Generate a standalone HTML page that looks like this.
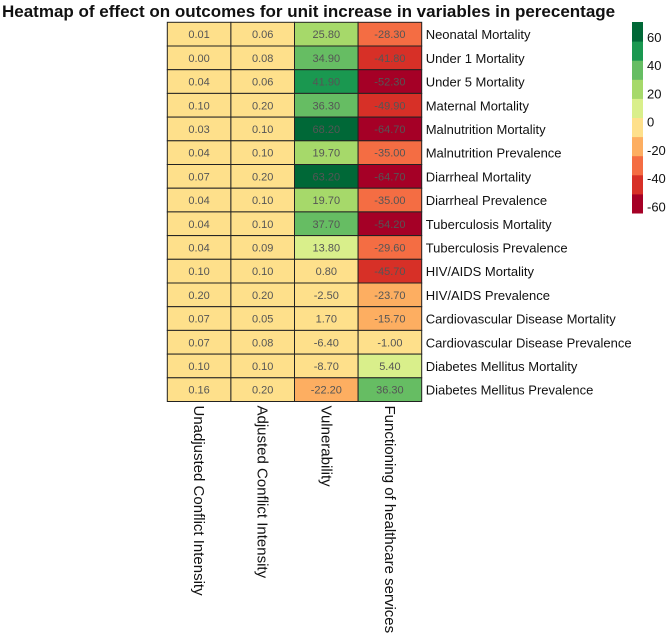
<!DOCTYPE html>
<html><head><meta charset="utf-8"><style>
body{margin:0;background:#fff;}
svg text{font-family:"Liberation Sans",sans-serif;}
</style></head><body>
<svg id="c" width="669" height="637" viewBox="0 0 669 637">
<text x="2" y="17" font-size="17" font-weight="bold" fill="#111">Heatmap of effect on outcomes for unit increase in variables in perecentage</text>
</svg>
<script>
const rowLabels=["Neonatal Mortality","Under 1 Mortality","Under 5 Mortality","Maternal Mortality","Malnutrition Mortality","Malnutrition Prevalence","Diarrheal Mortality","Diarrheal Prevalence","Tuberculosis Mortality","Tuberculosis Prevalence","HIV/AIDS Mortality","HIV/AIDS Prevalence","Cardiovascular Disease Mortality","Cardiovascular Disease Prevalence","Diabetes Mellitus Mortality","Diabetes Mellitus Prevalence"];
const colLabels=["Unadjusted Conflict Intensity","Adjusted Conflict Intensity","Vulnerability","Functioning of healthcare services"];
const unadjusted=[0.01,0.00,0.04,0.10,0.03,0.04,0.07,0.04,0.04,0.04,0.10,0.20,0.07,0.07,0.10,0.16];
const adjusted=[0.06,0.08,0.06,0.20,0.10,0.10,0.20,0.10,0.10,0.09,0.10,0.20,0.05,0.08,0.10,0.20];
const vulnerability=[25.8,34.9,41.9,36.3,68.2,19.7,63.2,19.7,37.7,13.8,0.8,-2.5,1.7,-6.4,-8.7,-22.2];
const healthcare=[-28.3,-41.8,-52.3,-49.9,-64.7,-35.0,-64.7,-35.0,-54.2,-29.6,-45.7,-23.7,-15.7,-1.0,5.4,36.3];
const legendTicks=[60,40,20,0,-20,-40,-60];
const palette=["#a50026","#d73027","#f46d43","#fdae61","#fee08b","#d9ef8b","#a6d96a","#66bd63","#1a9850","#006837"];
const series=[unadjusted,adjusted,vulnerability,healthcare];
const svg=document.getElementById('c');
const NS='http://www.w3.org/2000/svg';
function mk(t,a){const e=document.createElementNS(NS,t);for(const k in a)e.setAttribute(k,a[k]);svg.appendChild(e);return e;}
const all=series.flat();const vmin=Math.min(...all),vmax=Math.max(...all);
function color(v){let i=Math.floor((v-vmin)/(vmax-vmin)*10);i=Math.max(0,Math.min(9,i));return palette[i];}
const x0=167.3,y0=22.3,cw=63.6,rh=23.7;
const xPos=j=>x0+j*cw, yPos=i=>y0+i*rh;
series.forEach((s,j)=>{s.forEach((v,i)=>{
 const r=mk('rect',{x:xPos(j),y:yPos(i),width:cw,height:rh,fill:color(v),stroke:'#222','stroke-width':1});
 
 
 const t=mk('text',{x:xPos(j)+cw/2,y:yPos(i)+rh/2+4,'text-anchor':'middle','font-size':11,fill:'#555'});
 t.textContent=v.toFixed(2);
 
 
});});
rowLabels.forEach((l,i)=>{
 const t=mk('text',{x:xPos(4)+4,y:yPos(i)+rh/2+5,'font-size':13,fill:'#111'});
 t.textContent=l;
 
 
});
colLabels.forEach((l,j)=>{
 const cx=xPos(j)+cw/2-5,cy=yPos(16)+4;
 const t=mk('text',{x:cx,y:cy,'font-size':15,fill:'#111',transform:`rotate(90 ${cx} ${cy})`});
 t.textContent=l;
 
 
});
const lx=632,lw=11,ltop=22,lbot=213;
const ly=v=>ltop+(vmax+2.3-v)/((vmax+2.3)-vmin)*(lbot-ltop);
const bh=(lbot-ltop)/10;
palette.forEach((c,k)=>{
 const r=mk('rect',{x:lx,y:lbot-(k+1)*bh,width:lw,height:bh+0.5,fill:c});
 
 
});
legendTicks.forEach(v=>{
 const t=mk('text',{x:lx+15,y:ly(v)+5,'font-size':13,fill:'#111'});
 t.textContent=v;
 
 
});
</script>
</body></html>
